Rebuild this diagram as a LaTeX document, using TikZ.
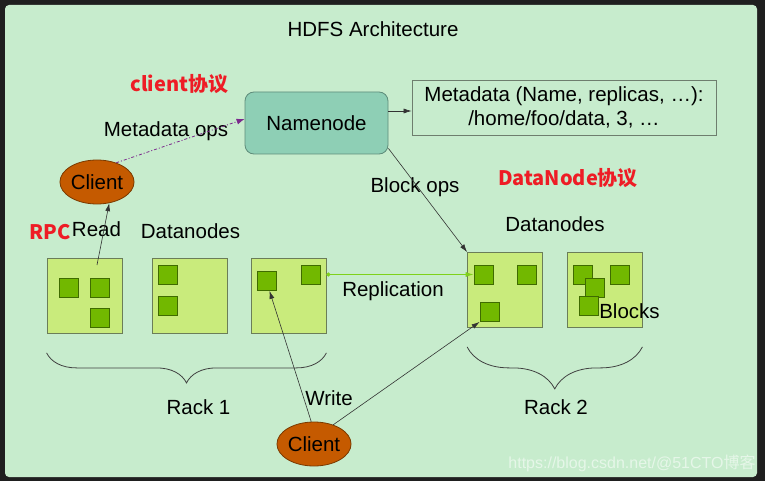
\documentclass[tikz,border=0pt]{standalone}
\usepackage{fontspec}
\setmainfont{Liberation Sans}
\newfontfamily\cjk{Noto Sans CJK SC}
\usetikzlibrary{arrows.meta,decorations.pathreplacing,shapes.geometric}

\definecolor{framebg}{HTML}{1F1F1F}
\definecolor{panelbg}{HTML}{C7ECCD}
\definecolor{namefill}{HTML}{8ECFB5}
\definecolor{nameedge}{HTML}{5E8C7A}
\definecolor{metaedge}{HTML}{6E7E6E}
\definecolor{dnfill}{HTML}{C9EB7C}
\definecolor{dnedge}{HTML}{6B7D58}
\definecolor{blkfill}{HTML}{72B800}
\definecolor{blkedge}{HTML}{3F6B00}
\definecolor{clfill}{HTML}{C55A00}
\definecolor{cledge}{HTML}{7A3A00}
\definecolor{protored}{HTML}{EE1C25}
\definecolor{opspurple}{HTML}{7B2A8C}
\definecolor{replgreen}{HTML}{7FD11B}

\tikzset{
	txt/.style={inner sep=0pt, font=\fontsize{20.5}{24}\selectfont},
	proto/.style={inner sep=0pt, text=protored, font=\cjk\bfseries\fontsize{20}{24}\selectfont},
	namenode/.style={draw=nameedge, fill=namefill, line width=0.8pt, rounded corners=9pt, minimum width=143pt, minimum height=62pt, font=\fontsize{20.5}{24}\selectfont},
	metabox/.style={draw=metaedge, line width=0.8pt, minimum width=304pt, minimum height=55pt, inner sep=0pt, align=center, font=\fontsize{20.5}{24}\selectfont},
	datanode/.style={draw=dnedge, fill=dnfill, line width=0.8pt, minimum size=75pt, inner sep=0pt},
	blk/.style={draw=blkedge, fill=blkfill, line width=0.8pt, minimum size=19pt, inner sep=0pt},
	client/.style={ellipse, draw=cledge, fill=clfill, line width=0.8pt, minimum width=74pt, minimum height=44pt, inner sep=0pt, font=\fontsize{20.5}{24}\selectfont},
	arr/.style={draw=black!80, line width=0.6pt, -{Latex[length=8pt,width=5pt]}},
	opsarr/.style={draw=opspurple, line width=0.8pt, dash pattern=on 3pt off 2pt on 1pt off 2pt, -{Latex[length=8pt,width=6pt]}},
	replarr/.style={draw=replgreen, line width=0.8pt, {Circle[length=4pt]}-{Latex[length=8pt,width=5pt]}},
	rackbrace/.style={draw=black!75, line width=0.8pt, decorate, decoration={brace, amplitude=#1}}
}

\begin{document}
\begin{tikzpicture}[x=1pt, y=-1pt]

	\useasboundingbox (0,0) rectangle (765,481);
	\fill[framebg] (0,0) rectangle (765,481);
	\fill[panelbg, rounded corners=4pt] (5,5) rectangle (757,477);

	\node[txt] (title) at (373,29) {HDFS Architecture};

	\node[namenode] (nn) at (316.5,123) {Namenode};
	\node[metabox] (meta) at (564,107.5) {Metadata (Name, replicas, …):\\/home/foo/data, 3, …};
	\draw[arr] ([yshift=12pt]nn.east) -- ([yshift=-3.5pt]meta.west);

	\node[proto] (cliproto) at (179.5,84) {client协议};
	\node[txt] (metaops) at (166,131) {Metadata ops};
	\node[client] (cl1) at (97,182) {Client};
	\draw[opsarr] (cl1.45) -- ([yshift=4pt]nn.west);

	% rack 1
	\node[datanode] (dn1) at (84.5,296) {};
	\node[datanode] (dn2) at (189.5,296) {};
	\node[datanode] (dn3) at (288.5,296) {};
	\node[blk] (b1a) at (68.5,287.5) {};
	\node[blk] (b1b) at (100,287.5) {};
	\node[blk] (b1c) at (100,317.5) {};
	\node[blk] (b2a) at (167.5,274.5) {};
	\node[blk] (b2b) at (167.5,305.5) {};
	\node[blk] (b3a) at (266.5,281) {};
	\node[blk] (b3b) at (310.5,274.5) {};

	% rack 2
	\node[datanode] (dn4) at (505,290) {};
	\node[datanode] (dn5) at (604.5,290) {};
	\node[blk] (b4a) at (483.5,274.5) {};
	\node[blk] (b4b) at (526.5,274.5) {};
	\node[blk] (b4c) at (489.5,312) {};
	\node[blk] (b5a) at (582.5,274.5) {};
	\node[blk] (b5b) at (619.5,274.5) {};
	\node[blk] (b5c) at (594.5,287.5) {};
	\node[blk] (b5d) at (588.5,305.5) {};
	\node[txt] (blocks) at (629.5,311) {Blocks};

	\node[proto] (rpc) at (50,232) {RPC};
	\node[txt] (read) at (96.5,229) {Read};
	\node[txt] (dnlbl1) at (190.5,231) {Datanodes};
	\coordinate (readsrc) at (97,265);
	\draw[arr] (readsrc) -- (cl1.-60);

	\node[txt] (blockops) at (415,187) {Block ops};
	\node[proto] (dnproto) at (568,178) {DataNode协议};
	\node[txt] (dnlbl2) at (555,224) {Datanodes};
	\draw[arr] ([yshift=6pt]nn.south east) -- (dn4.north west);

	\node[txt] (repl) at (393,291) {Replication};
	\draw[replarr] (dn3.east |- b3b.east) -- (b4a.west);

	\draw[rackbrace=30pt] ([yshift=-19pt]dn3.south east) -- ([yshift=-19pt]dn1.south west);
	\draw[rackbrace=42pt] ([yshift=-19pt]dn5.south east) -- ([yshift=-19pt]dn4.south west);
	\node[txt] (rack1) at (198.5,407) {Rack 1};
	\node[txt] (rack2) at (556,407) {Rack 2};

	\node[client] (cl2) at (314,444) {Client};
	\node[txt] (write) at (329,398) {Write};
	\draw[arr] (cl2.97) -- ([xshift=3pt]b3a.south);
	\draw[arr] (cl2.45) -- (b4c.south west);

	\node[inner sep=0pt, text=white, opacity=0.55, font=\fontsize{16}{18}\selectfont] (wm) at (632,463) {https://blog.csdn.net/@51CTO{\cjk 博客}};

\end{tikzpicture}
\end{document}
